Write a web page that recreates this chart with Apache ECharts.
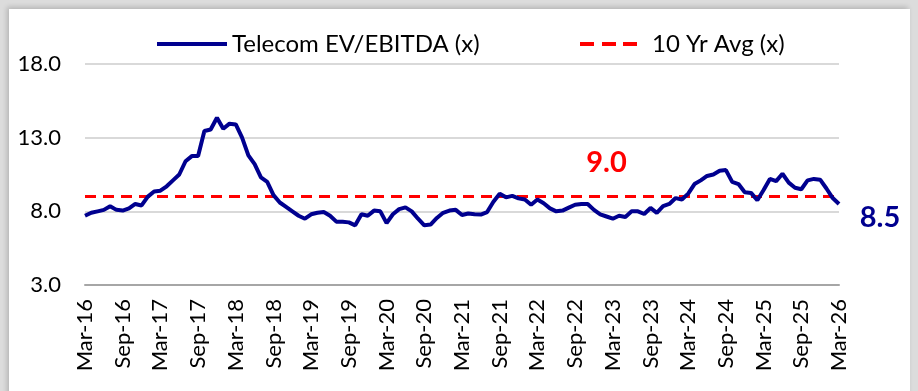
<!DOCTYPE html>
<html>
<head>
<meta charset="utf-8">
<script src="https://cdn.jsdelivr.net/npm/echarts@6/dist/echarts.min.js"></script>
<style>
  html, body { margin: 0; padding: 0; width: 918px; height: 391px; overflow: hidden; background: #dcdcdc; }
  #frame { position: absolute; left: 9px; top: 9px; width: 901px; height: 400px; background: #ffffff;
           box-shadow: -2px -2px 5px rgba(0,0,0,0.18); }
  #chart { position: absolute; left: 0; top: 0; width: 918px; height: 391px; }
</style>
</head>
<body>
<div id="frame"></div>
<div id="chart"></div>
<script>
// Monthly Telecom EV/EBITDA multiple, Mar-16 through Mar-26
const evEbitda = [
  7.7, 7.9, 8.0, 8.1, 8.35, 8.1, 8.05, 8.2, 8.5, 8.4,
  9.0, 9.35, 9.4, 9.7, 10.1, 10.5, 11.4, 11.75, 11.75, 13.45,
  13.55, 14.35, 13.6, 13.95, 13.9, 13.0, 11.8, 11.2, 10.3, 10.0,
  9.1, 8.6, 8.3, 8.0, 7.7, 7.5, 7.8, 7.9, 7.95, 7.7,
  7.3, 7.3, 7.25, 7.05, 7.8, 7.7, 8.05, 8.0, 7.2, 7.8,
  8.15, 8.27, 8.0, 7.5, 7.05, 7.1, 7.55, 7.9, 8.05, 8.1,
  7.75, 7.85, 7.8, 7.78, 7.95, 8.65, 9.2, 8.95, 9.05, 8.88,
  8.8, 8.45, 8.8, 8.55, 8.2, 8.0, 8.05, 8.25, 8.45, 8.5,
  8.5, 8.1, 7.8, 7.65, 7.5, 7.7, 7.62, 8.0, 8.0, 7.82,
  8.23, 7.9, 8.35, 8.5, 8.9, 8.8, 9.2, 9.85, 10.1, 10.4,
  10.5, 10.75, 10.8, 10.0, 9.85, 9.3, 9.25, 8.75, 9.45, 10.2,
  10.05, 10.55, 9.95, 9.6, 9.5, 10.1, 10.2, 10.15, 9.55, 8.9,
  8.5
];

// 10-year average multiple
const tenYrAvg = 9.0;

// Series names
const seriesNames = ['Telecom EV/EBITDA (x)', '10 Yr Avg (x)'];

// Y axis ticks
const yTicks = [3, 8, 13, 18];

// Month labels, Mar-16 .. Mar-26
const monthNames = ['Jan','Feb','Mar','Apr','May','Jun','Jul','Aug','Sep','Oct','Nov','Dec'];
const categories = [];
for (let i = 0; i < evEbitda.length; i++) {
  const m = (2 + i) % 12;
  const y = 16 + Math.floor((2 + i) / 12);
  categories.push(monthNames[m] + '-' + y);
}

const avgLine = categories.map(() => tenYrAvg);
const lastIdx = evEbitda.length - 1;
const FONT = 'Lato, "Open Sans", sans-serif';

// Legend glyphs: a solid bar and a three-dash bar
const solidIcon = 'path://M0,0h70v4h-70z';
const dashIcon = 'path://M0,0h14v4h-14z M22,0h14v4h-14z M43,0h14v4h-14z';

const chart = echarts.init(document.getElementById('chart'), null, { renderer: 'canvas' });
chart.setOption({
  backgroundColor: 'transparent',
  animation: false,
  textStyle: { fontFamily: FONT },
  grid: { left: 85, right: 79, top: 64, bottom: 106, containLabel: false },
  legend: [
    {
      data: [{ name: seriesNames[0], icon: solidIcon }],
      left: 152, top: 27,
      itemWidth: 70, itemHeight: 4,
      textStyle: { color: '#000', fontSize: 24, fontFamily: FONT }
    },
    {
      data: [{ name: seriesNames[1], icon: dashIcon }],
      left: 575, top: 27,
      itemWidth: 57, itemHeight: 4,
      textStyle: { color: '#000', fontSize: 24, fontFamily: FONT, padding: [0, 0, 0, 10] }
    }
  ],
  xAxis: {
    type: 'category',
    data: categories,
    boundaryGap: false,
    axisLine: { lineStyle: { color: '#a6a6a6', width: 2 } },
    axisTick: { show: false },
    axisLabel: {
      interval: 5,
      rotate: 90,
      margin: 14,
      color: '#000',
      fontSize: 22,
      fontFamily: FONT
    },
    splitLine: { show: false }
  },
  yAxis: {
    type: 'value',
    min: yTicks[0],
    max: yTicks[yTicks.length - 1],
    interval: yTicks[1] - yTicks[0],
    axisLine: { show: false },
    axisTick: { show: false },
    axisLabel: {
      margin: 24,
      color: '#000',
      fontSize: 22,
      fontFamily: FONT,
      formatter: v => v.toFixed(1)
    },
    splitLine: { lineStyle: { color: '#d9d9d9', width: 2 } }
  },
  series: [
    {
      name: seriesNames[0],
      type: 'line',
      data: evEbitda,
      symbol: 'none',
      z: 3,
      lineStyle: { color: '#00008f', width: 4 },
      itemStyle: { color: '#00008f' },
      markPoint: {
        symbol: 'circle',
        symbolSize: 1,
        itemStyle: { color: 'transparent' },
        data: [{
          coord: [categories[lastIdx], evEbitda[lastIdx]],
          value: evEbitda[lastIdx],
          label: {
            show: true,
            position: 'inside',
            offset: [41, 14],
            formatter: p => p.value.toFixed(1),
            color: '#00008f',
            fontSize: 29,
            fontWeight: 'bold',
            fontFamily: FONT
          }
        }]
      }
    },
    {
      name: seriesNames[1],
      type: 'line',
      data: avgLine,
      symbol: 'none',
      z: 2,
      lineStyle: { color: '#ff0000', width: 3, type: [11, 7] },
      itemStyle: { color: '#ff0000' },
      markPoint: {
        symbol: 'circle',
        symbolSize: 1,
        itemStyle: { color: 'transparent' },
        data: [{
          coord: [categories[83], tenYrAvg],
          value: tenYrAvg,
          label: {
            show: true,
            position: 'inside',
            offset: [0, -34],
            formatter: p => p.value.toFixed(1),
            color: '#ff0000',
            fontSize: 29,
            fontWeight: 'bold',
            fontFamily: FONT
          }
        }]
      }
    }
  ]
});
</script>
</body>
</html>
